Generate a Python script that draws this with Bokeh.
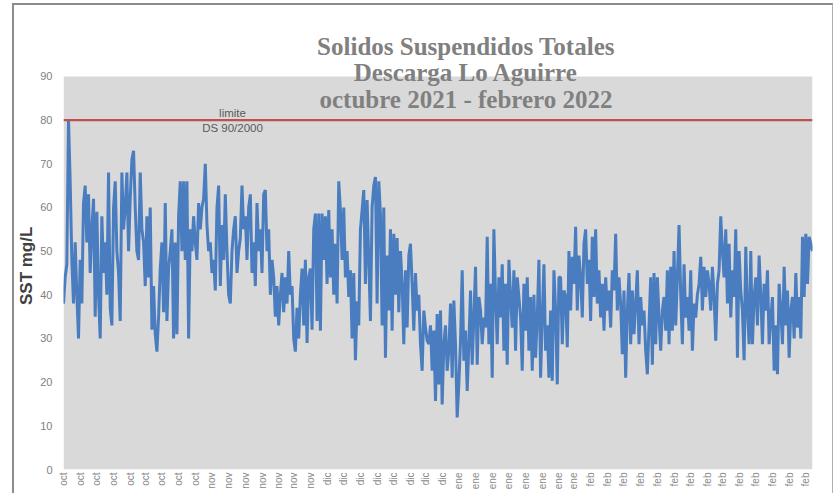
import numpy as np
from bokeh.plotting import figure
from bokeh.models import Label, Span, FixedTicker, Range1d, BoxAnnotation
from bokeh.embed import file_html
from bokeh.resources import INLINE

# ---- data (SST mg/L), in time order ----
sst_oct = [38, 44, 47, 80, 66, 48, 38, 52, 40, 30, 48, 38, 61, 65, 52, 63,
           45, 55, 62, 35, 59, 40, 30, 58, 45, 52, 40, 68, 37, 33, 60,
           66, 50, 45, 34, 68, 55, 60, 68, 50, 62, 71, 73, 60, 50, 48,
           68, 55, 52, 42, 58, 44, 60, 32, 42, 31, 27, 35, 46, 52, 36,
           61, 34, 46, 50, 55, 30, 52, 31, 58, 66, 50, 66, 48, 66, 30,
           55, 50, 58, 52, 48, 61, 55, 60, 62, 70, 56, 50]
sst_nov = [52, 45, 48, 41, 60, 65, 42, 56, 48, 63, 50, 40, 38, 50, 55,
           58, 45, 50, 53, 65, 55, 58, 48, 60, 63, 45, 52, 42, 61, 50,
           55, 45, 63, 64, 50, 55, 40, 48, 44, 35, 42, 33, 40, 45, 36,
           44, 38, 50, 40, 42, 30, 27, 37, 30, 40, 46, 33, 48, 29, 44,
           46, 32, 55, 58.6, 34, 58.6, 31.8, 58.6, 48, 58, 42.5, 59.4,
           44, 55, 40]
sst_dic = [51.7, 38, 66, 59.4, 48, 60, 44, 50, 39.5, 45.6, 30, 45,
           25, 38.5, 33, 55, 59.4, 64, 42.5, 61.7, 48, 34, 60, 65,
           67, 38, 66, 58.6, 33, 60, 25.6, 49, 36.4, 55, 31.8, 54,
           40, 53, 36, 50, 42.5, 28.7, 45.6, 32.5, 49, 51.7, 42.5, 31.8,
           45, 36.4, 40, 28.7, 22.6, 36.4, 32.5, 29.5, 28.7, 33, 22.6, 31.8,
           15.7, 35.6, 19.5, 36.4, 14.9, 28.7, 33, 22.6, 27.2, 38, 21, 38.7,
           28.7, 11.9, 19.5, 29.5, 45.6, 24.9]
sst_ene = [31.8, 18, 28.7, 41, 24, 34.8, 46.4, 24, 39.5, 36.4, 28.7, 34.8,
           32.5, 53.3, 28.7, 42.5, 21, 55, 39.5, 28.7, 44, 34.8, 47, 27.2,
           42.5, 24, 48, 39.5, 32.5, 45.6, 27.2, 44, 39.5, 34.8, 22.6, 42.5,
           31.8, 44, 27.2, 39.5, 22.6, 40, 25.6, 34.8, 48, 21, 34.8, 47,
           27.2, 33, 21, 36.4, 20.3, 45.6, 36.4, 19.5, 44,
           44, 28.7, 41, 39.5, 28, 50, 36.4, 48.7, 42.5, 55.6, 36.4, 49,
           44, 34.8, 51.7, 55, 42.5, 48, 34, 53.3, 39.5]
sst_feb = [55, 38, 45.6, 34.8, 42.5, 31.8, 44, 36.4, 41, 32.5, 45.6, 41,
           54, 36.4, 44, 38, 26.4, 41, 21, 36.4, 45, 28.7, 41, 31,
           38, 45.6, 28.7, 39.5, 33, 36.4, 27.2, 21.8, 33, 44, 24, 45,
           28.7, 44, 34.8, 27.2, 36.4, 39.5, 31.8, 45.6, 28.7, 46.4, 31.8, 50,
           33, 44, 56, 40, 28.7, 47, 34.8, 39.5, 31.8, 45.6, 27.2, 38,
           34.8, 40, 42.5, 48.7, 36.4, 46.4, 39.5, 45.6, 42.5, 36.4, 46.4, 39.5,
           29.5, 42.5, 45.6, 58, 50, 44, 55, 38, 51.7, 34.8, 45.6, 39.5,
           55, 25.6, 50, 41, 36.4, 25, 51, 36.4, 28.7, 50, 28.7, 39.5,
           44, 33, 49, 40, 28.7, 42.5, 36.4, 45.6, 28.7, 34.8, 39.5, 22.6,
           33, 21.8, 42.5, 36.4, 28.7, 46.4, 33, 41, 25.6, 36.4, 39.5, 30,
           45, 32.5, 39.5, 30, 53.3, 39.5, 54, 42.5, 53.3, 51.7, 50]

sst = sst_oct + sst_nov + sst_dic + sst_ene + sst_feb
idx = list(range(len(sst)))

tick_months = ["oct"] * 9 + ["nov"] * 7 + ["dic"] * 8 + ["ene"] * 8 + ["feb"] * 14
y_ticks = [0, 10, 20, 30, 40, 50, 60, 70, 80, 90]
Y_MAX = 90
LIMIT = 80
y_label = "SST mg/L"
limit_text = ["limite", "DS 90/2000"]
title_lines = ["Solidos Suspendidos Totales", "Descarga Lo Aguirre",
               "octubre 2021 - febrero 2022"]

N = len(sst)
step = (N - 1) / 45.42
x_ticks = [int(round(i * step)) for i in range(len(tick_months))]

# frame extends to the canvas top so the title can overlap the plot area
p = figure(frame_width=749, frame_height=464,
           min_border_left=49, min_border_right=20,
           min_border_top=0, min_border_bottom=24,
           x_range=Range1d(0, N - 1), y_range=Range1d(0, 106.25),
           output_backend="svg", toolbar_location=None,
           background_fill_color="white", border_fill_color="white")
p.styles = {"border-top": "2px solid #8c8c8c", "border-left": "2px solid #8c8c8c",
            "border-right": "1px solid #b0b0b0",
            "margin-left": "12px", "margin-top": "3px"}
p.outline_line_color = None
p.grid.grid_line_color = None

p.add_layout(BoxAnnotation(bottom=0, top=Y_MAX, fill_color="#d9d9d9",
                           fill_alpha=1.0, line_color=None, level="underlay"))

p.line(idx, sst, line_color="#4a7dbf", line_width=3)
p.add_layout(Span(location=LIMIT, dimension="width",
                  line_color="#c0504d", line_width=2.2))

# axes
p.xaxis.ticker = FixedTicker(ticks=x_ticks)
p.xaxis.major_label_overrides = {t: m for t, m in zip(x_ticks, tick_months)}
p.xaxis.major_label_orientation = np.pi / 2
p.xaxis.major_label_text_font = "Liberation Sans"
p.xaxis.major_label_text_font_size = "10px"
p.xaxis.major_label_text_color = "#8a8a8a"
p.xaxis.major_label_standoff = 3

p.yaxis.ticker = FixedTicker(ticks=y_ticks)
p.yaxis.major_label_text_font = "Liberation Sans"
p.yaxis.major_label_text_font_size = "11px"
p.yaxis.major_label_text_color = "#808080"
p.yaxis.major_label_standoff = 11
# trailing no-break spaces centre the label on the 0-90 part of the frame
p.yaxis.axis_label = y_label + "\u00a0" * 12
p.yaxis.axis_label_text_font = "Liberation Sans"
p.yaxis.axis_label_text_font_style = "bold"
p.yaxis.axis_label_text_font_size = "17px"
p.yaxis.axis_label_text_color = "#404040"
p.yaxis.axis_label_standoff = 1

for ax in (p.xaxis, p.yaxis):
    ax.axis_line_color = None
    ax.major_tick_line_color = None
    ax.minor_tick_line_color = None
    ax.major_tick_out = 0
    ax.major_tick_in = 0

# title (overlapping the plot area as in the reference)
xc = (466.5 - 64) / 749 * (N - 1)
for txt, yv in zip(title_lines, [96.9, 90.8, 84.8]):
    p.add_layout(Label(x=xc, y=yv, text=txt, text_align="center",
                       text_baseline="middle", text_font="Liberation Serif",
                       text_font_style="bold", text_font_size="25px",
                       text_color="#808080"))

xl = (233 - 64) / 749 * (N - 1)
for txt, yv in zip(limit_text, [81.7, 78.2]):
    p.add_layout(Label(x=xl, y=yv, text=txt, text_align="center",
                       text_baseline="middle", text_font="Liberation Sans",
                       text_font_size="11.5px", text_color="#595959"))

open("out.html", "w").write(file_html(p, INLINE))
